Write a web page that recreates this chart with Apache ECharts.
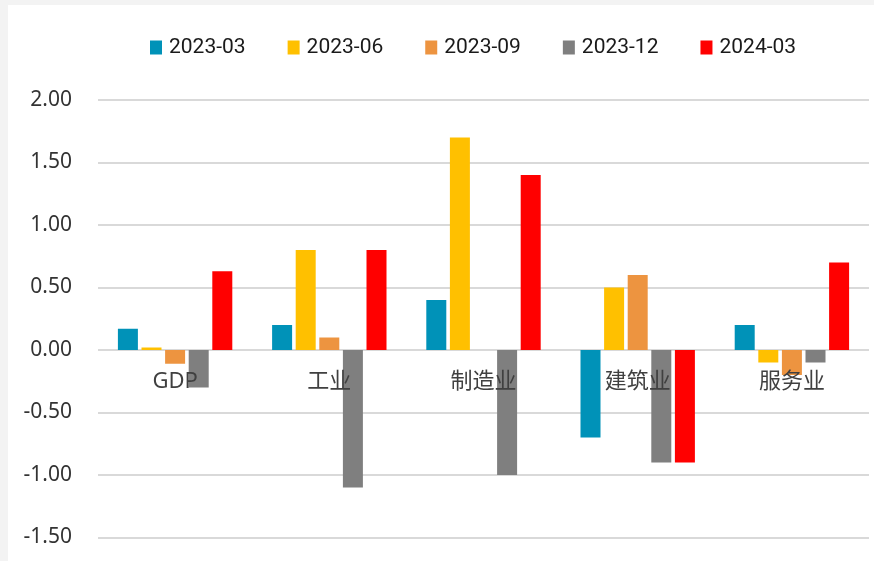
<!DOCTYPE html>
<html>
<head>
<meta charset="utf-8">
<script src="https://cdn.jsdelivr.net/npm/echarts@6/dist/echarts.min.js"></script>
<style>
  html, body { margin: 0; padding: 0; background: #f3f3f3; }
  #chart { position: absolute; left: 8px; top: 5px; width: 866px; height: 556px; background: #fff; }
</style>
</head>
<body>
<div id="chart"></div>
<script>
// categories + period series
const categories = ["GDP", "工业", "制造业", "建筑业", "服务业"];
const periods = ["2023-03", "2023-06", "2023-09", "2023-12", "2024-03"];
const colors = ["#0092b8", "#ffc000", "#ed9440", "#7f7f7f", "#ff0000"];

const v202303 = [0.17, 0.2, 0.4, -0.7, 0.2];
const v202306 = [0.02, 0.8, 1.7, 0.5, -0.1];
const v202309 = [-0.11, 0.1, 0.0, 0.6, -0.2];
const v202312 = [-0.3, -1.1, -1.0, -0.9, -0.1];
const v202403 = [0.63, 0.8, 1.4, -0.9, 0.7];
const seriesValues = [v202303, v202306, v202309, v202312, v202403];

const yMin = -1.5, yMax = 2.0, yStep = 0.5;

// grid box (px inside the chart div)
const gridTop = 95, gridBottom = 23.5, chartH = 556;
const plotH = chartH - gridTop - gridBottom;
// distance from the bottom edge up to the zero line
const zeroFromBottom = plotH * (0 - yMin) / (yMax - yMin);

const chart = echarts.init(document.getElementById("chart"));

chart.setOption({
    animation: false,
    color: colors,
    legend: {
        left: 137,
        top: 27,
        itemWidth: 12,
        itemHeight: 14,
        itemGap: 42,
        icon: "rect",
        textStyle: {
            fontFamily: "Roboto, 'Noto Sans', sans-serif",
            fontSize: 21,
            color: "#1a1a1a",
            padding: [0, 0, 0, 2],
        },
        data: periods,
    },
    grid: {
        left: 90,
        right: 5,
        top: gridTop,
        bottom: gridBottom,
        outerBoundsMode: "none",
        containLabel: false,
    },
    xAxis: {
        type: "category",
        data: categories,
        z: 5, // labels drawn over the bars, as in the original
        axisLine: { show: false, onZero: false },
        axisTick: { show: false },
        axisLabel: {
            // labels sit just under the zero line
            margin: -zeroFromBottom + 21,
            fontFamily: "'Noto Sans', 'Noto Sans CJK SC', sans-serif",
            fontSize: 22,
            color: "#404040",
        },
    },
    yAxis: {
        type: "value",
        min: yMin,
        max: yMax,
        interval: yStep,
        axisLine: { show: false },
        axisTick: { show: false },
        axisLabel: {
            margin: 26,
            fontFamily: "'Noto Sans', sans-serif",
            fontSize: 21,
            color: "#333",
            formatter: (v) => v.toFixed(2),
        },
        splitLine: { lineStyle: { color: "#d9d9d9", width: 2 } },
    },
    series: periods.map((name, i) => ({
        name,
        type: "bar",
        data: seriesValues[i],
        barWidth: 20,
        barGap: "18%",
        itemStyle: { color: colors[i] },
    })),
});
</script>
</body>
</html>
